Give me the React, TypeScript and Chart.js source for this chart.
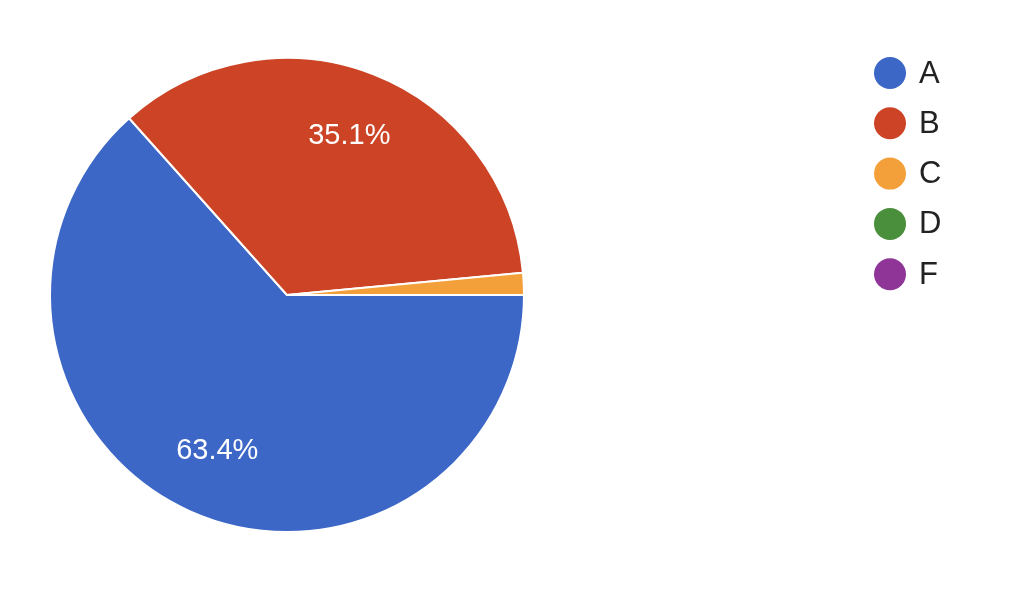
import React, { useEffect, useRef } from "react";
import { Chart, registerables } from "chart.js";

Chart.register(...registerables);

const categories = ["A", "B", "C", "D", "F"];
const shares = [63.4, 35.1, 1.5, 0, 0];
const colors = ["#3c67c6", "#cc4425", "#f4a03a", "#4a8f3b", "#8e3597"];

const FONT = "'Liberation Sans', Arial, Helvetica, sans-serif";

const overlayPlugin = {
  id: "overlay",
  afterDatasetsDraw(chart: any) {
    const ctx = chart.ctx;
    const meta = chart.getDatasetMeta(0);
    const total = shares.reduce((a, b) => a + b, 0);
    ctx.save();
    // slice percentage labels
    ctx.fillStyle = "#ffffff";
    ctx.font = `29px ${FONT}`;
    ctx.textAlign = "center";
    ctx.textBaseline = "middle";
    meta.data.forEach((arc: any, i: number) => {
      const v = shares[i];
      if (!v || v / total < 0.05) return;
      const p = arc.getProps(["x", "y", "startAngle", "endAngle", "outerRadius"], true);
      const mid = (p.startAngle + p.endAngle) / 2;
      const r = p.outerRadius * 0.72;
      ctx.fillText(`${v.toFixed(1)}%`, p.x + Math.cos(mid) * r, p.y + Math.sin(mid) * r);
    });
    // legend
    ctx.textAlign = "left";
    ctx.font = `31px ${FONT}`;
    categories.forEach((c, i) => {
      const y = 73 + i * 50.3;
      ctx.beginPath();
      ctx.fillStyle = colors[i];
      ctx.arc(890, y, 16, 0, Math.PI * 2);
      ctx.fill();
      ctx.fillStyle = "#222222";
      ctx.fillText(c, 919, y + 1);
    });
    ctx.restore();
  },
};

export default function App() {
  const ref = useRef<HTMLCanvasElement>(null);
  useEffect(() => {
    document.body.style.margin = "0";
    const chart = new Chart(ref.current as HTMLCanvasElement, {
      type: "pie",
      data: {
        labels: categories,
        datasets: [
          {
            data: shares,
            backgroundColor: colors,
            borderColor: "#ffffff",
            borderWidth: 2,
          },
        ],
      },
      options: {
        animation: false,
        responsive: false,
        rotation: 90,
        layout: { padding: { left: 49, top: 57, right: 499, bottom: 64 } },
        plugins: {
          legend: { display: false },
          tooltip: { enabled: false },
        },
      },
      plugins: [overlayPlugin],
    });
    return () => chart.destroy();
  }, []);
  return (
    <div style={{ width: 1024, height: 597, background: "#fff" }}>
      <canvas ref={ref} width={1024} height={597} />
    </div>
  );
}
